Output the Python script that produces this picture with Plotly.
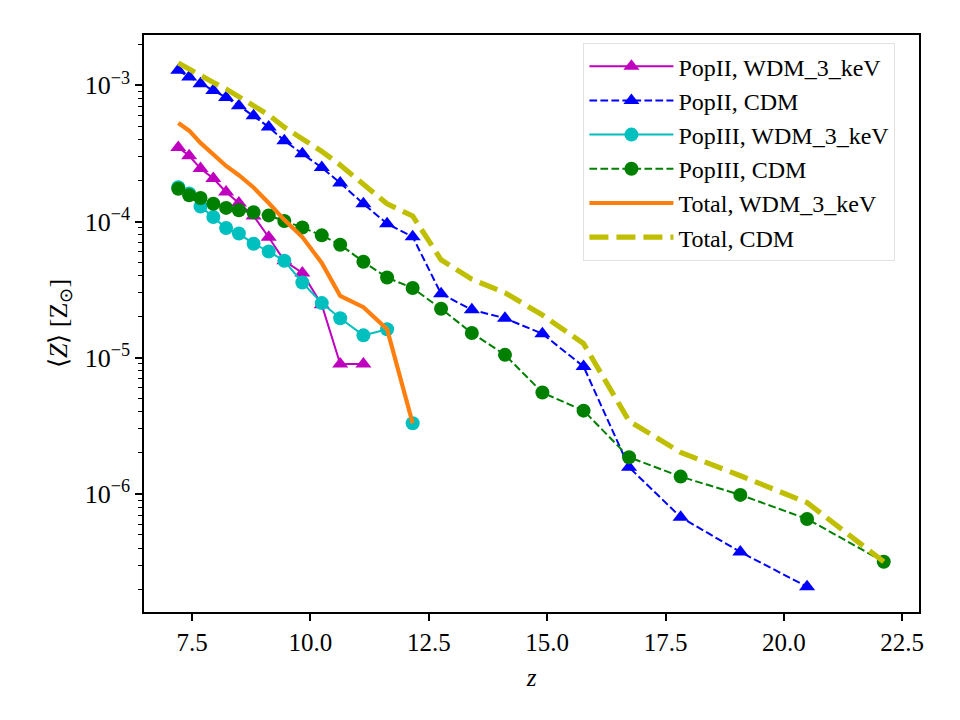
import plotly.graph_objects as go

# redshift snapshots (shared by all series)
z_snap = [7.21, 7.44, 7.68, 7.95, 8.22, 8.49, 8.80, 9.12, 9.45, 9.83, 10.24, 10.63,
          11.12, 11.62, 12.16, 12.76, 13.41, 14.11, 14.90, 15.77, 16.73, 17.82,
          19.08, 20.49, 22.11]

popII_wdm = [3.50e-4, 3.04e-4, 2.45e-4, 2.07e-4, 1.65e-4, 1.37e-4, 1.10e-4, 7.67e-5,
             5.15e-5, 4.19e-5, 2.45e-5, 9.0e-6, 9.0e-6]
popII_cdm = [1.29e-3, 1.15e-3, 1.03e-3, 9.19e-4, 8.16e-4, 7.10e-4, 5.99e-4, 4.95e-4,
             3.92e-4, 3.15e-4, 2.49e-4, 1.92e-4, 1.35e-4, 9.64e-5, 7.73e-5, 2.95e-5,
             2.25e-5, 1.95e-5, 1.50e-5, 8.62e-6, 1.57e-6, 6.75e-7, 3.75e-7, 2.08e-7]
popIII_wdm = [1.79e-4, 1.61e-4, 1.29e-4, 1.08e-4, 8.96e-5, 8.18e-5, 6.87e-5, 6.03e-5,
              5.15e-5, 3.57e-5, 2.52e-5, 1.95e-5, 1.46e-5, 1.62e-5, 3.30e-6]
popIII_cdm = [1.74e-4, 1.56e-4, 1.49e-4, 1.35e-4, 1.26e-4, 1.21e-4, 1.17e-4, 1.11e-4,
              1.01e-4, 9.05e-5, 7.92e-5, 6.76e-5, 5.07e-5, 3.88e-5, 3.25e-5, 2.29e-5,
              1.52e-5, 1.05e-5, 5.55e-6, 4.09e-6, 1.86e-6, 1.34e-6, 9.84e-7, 6.55e-7,
              3.18e-7]
total_wdm = [5.29e-4, 4.65e-4, 3.78e-4, 3.14e-4, 2.56e-4, 2.19e-4, 1.78e-4, 1.37e-4,
             1.03e-4, 7.7e-5, 4.97e-5, 2.85e-5, 2.35e-5, 1.62e-5, 3.3e-6]
total_cdm = [1.46e-3, 1.31e-3, 1.18e-3, 1.05e-3, 9.42e-4, 8.31e-4, 7.16e-4, 6.06e-4,
             4.93e-4, 4.06e-4, 3.28e-4, 2.60e-4, 1.86e-4, 1.35e-4, 1.10e-4, 5.24e-5,
             3.77e-5, 3.00e-5, 2.06e-5, 1.27e-5, 3.43e-6, 2.02e-6, 1.36e-6, 8.63e-7,
             3.18e-7]

x_ticks = [7.5, 10.0, 12.5, 15.0, 17.5, 20.0, 22.5]
y_ticks = [1e-6, 1e-5, 1e-4, 1e-3]
y_ticktext = ["10<sup>\u22126</sup>", "10<sup>\u22125</sup>", "10<sup>\u22124</sup>", "10<sup>\u22123</sup>"]

FONT = "Liberation Serif"

series = [
    ("PopII, WDM_3_keV", popII_wdm, "#bf00bf", "solid", 2, "triangle-up", 14),
    ("PopII, CDM", popII_cdm, "#0000ff", "7.7px,3.3px", 2, "triangle-up", 14),
    ("PopIII, WDM_3_keV", popIII_wdm, "#00bfbf", "solid", 2, "circle", 14),
    ("PopIII, CDM", popIII_cdm, "#008000", "7.7px,3.3px", 2, "circle", 14),
    ("Total, WDM_3_keV", total_wdm, "#ff7f0e", "solid", 4.2, None, 0),
    ("Total, CDM", total_cdm, "#bfbf00", "19px,8px", 5.2, None, 0),
]

fig = go.Figure()
for i, (name, vals, color, dash, lw, sym, ms) in enumerate(series):
    kw = dict(
        x=z_snap[:len(vals)], y=vals, name=name, legendgroup=f"g{i}",
        line=dict(color=color, dash=dash, width=lw),
    )
    if sym:
        kw["mode"] = "lines+markers"
        kw["marker"] = dict(symbol=sym, size=ms, color=color)
    else:
        kw["mode"] = "lines"
    fig.add_trace(go.Scatter(**kw))

fig.update_layout(
    width=960, height=720,
    margin=dict(l=144, r=41, t=35, b=108),
    paper_bgcolor="white", plot_bgcolor="white",
    font=dict(family=FONT, size=24, color="black"),
    showlegend=True,
    legend=dict(
        x=0.567, y=0.986, xanchor="left", yanchor="top",
        bgcolor="rgba(255,255,255,0.8)", bordercolor="#e2e2e2", borderwidth=1,
        font=dict(family=FONT, size=24, color="black"),
        tracegroupgap=0, itemwidth=84,
    ),
)
fig.update_xaxes(
    range=[6.486, 22.854], tickvals=x_ticks, ticktext=[f"{v:.1f}" for v in x_ticks],
    showgrid=False, zeroline=False, showline=True, linecolor="black", linewidth=1.5,
    mirror=True, ticks="outside", ticklen=7, tickwidth=1.5, tickcolor="black",
    tickfont=dict(family=FONT, size=25),
    title=dict(text="<i>z</i>", font=dict(family=FONT, size=25), standoff=14),
)
fig.update_yaxes(
    type="log", range=[-6.867, -2.630], tickvals=y_ticks, ticktext=y_ticktext,
    showgrid=False, zeroline=False, showline=True, linecolor="black", linewidth=1.5,
    mirror=True, ticks="outside", ticklen=7, tickwidth=1.5, tickcolor="black",
    tickfont=dict(family=FONT, size=26),
    minor=dict(ticks="outside", ticklen=4, tickwidth=1.2, tickcolor="black", dtick="D1", showgrid=False),
    title=dict(text="\u27e8<i>Z</i>\u27e9 [Z<sub>\u2299</sub>]", font=dict(family=FONT, size=26), standoff=10),
)

fig.write_html("out.html")
